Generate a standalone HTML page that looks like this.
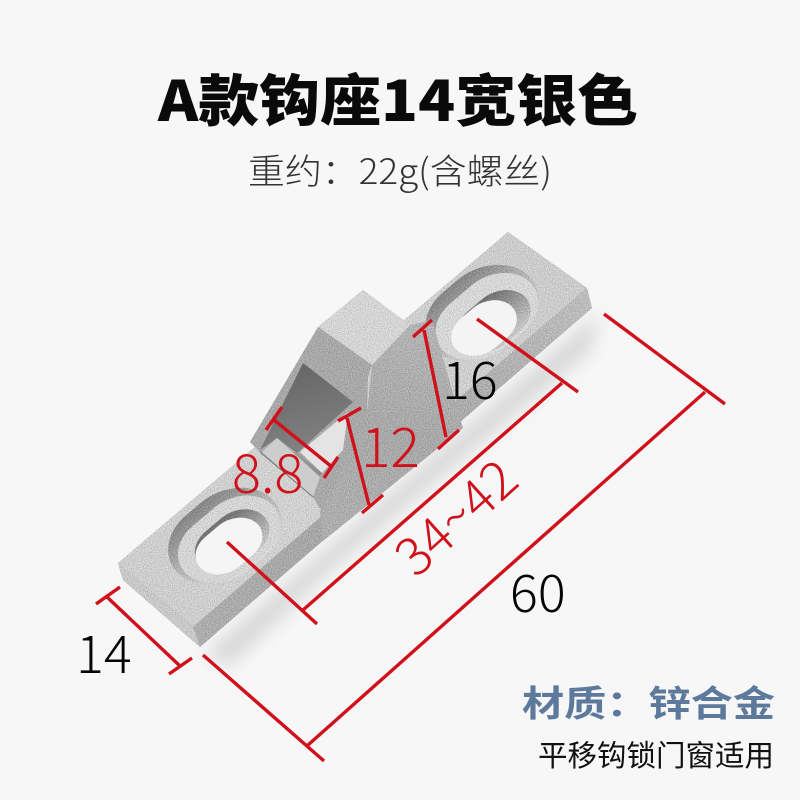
<!DOCTYPE html>
<html><head><meta charset="utf-8"><style>
html,body{margin:0;padding:0;width:800px;height:800px;overflow:hidden;background:#f7f7f7}
svg{display:block}
text{font-family:"Liberation Sans","Noto Sans CJK SC",sans-serif}
.cjk{font-family:"Noto Sans CJK SC","Liberation Sans",sans-serif}
.red{stroke:#d0111c;stroke-width:3.4;fill:none;stroke-linecap:butt}
</style></head><body>
<svg width="800" height="800" viewBox="0 0 800 800" xmlns="http://www.w3.org/2000/svg">
<defs>
<filter id="grain" x="0" y="0" width="100%" height="100%" color-interpolation-filters="sRGB">
<feTurbulence type="fractalNoise" baseFrequency="0.95" numOctaves="1" seed="4" result="n"/>
<feColorMatrix in="n" type="matrix" values="1 0 0 0 0 1 0 0 0 0 1 0 0 0 0 0 0 0 0 1" result="g"/>
<feComposite in="SourceGraphic" in2="g" operator="arithmetic" k1="0" k2="1" k3="0.4" k4="-0.2" result="m"/>
<feComposite in="m" in2="SourceAlpha" operator="in"/>
</filter>
<filter id="b6"><feGaussianBlur stdDeviation="9"/></filter>
<linearGradient id="top" gradientUnits="userSpaceOnUse" x1="120" y1="600" x2="590" y2="250">
<stop offset="0" stop-color="#cdcdcd"/><stop offset=".5" stop-color="#d2d2d2"/><stop offset="1" stop-color="#cacaca"/></linearGradient>
<linearGradient id="side" gradientUnits="userSpaceOnUse" x1="200" y1="640" x2="590" y2="300">
<stop offset="0" stop-color="#adadad"/><stop offset=".5" stop-color="#a2a2a2"/><stop offset="1" stop-color="#bcbcbc"/></linearGradient>
<linearGradient id="rf" gradientUnits="userSpaceOnUse" x1="400" y1="330" x2="350" y2="510">
<stop offset="0" stop-color="#b2b2b2"/><stop offset=".55" stop-color="#a8a8a8"/><stop offset="1" stop-color="#adadad"/></linearGradient>
<linearGradient id="ho" gradientUnits="userSpaceOnUse" x1="300" y1="370" x2="320" y2="450">
<stop offset="0" stop-color="#686868"/><stop offset="1" stop-color="#828282"/></linearGradient>
<linearGradient id="cs" x1="0" y1="0" x2="0" y2="1">
<stop offset="0" stop-color="#858585"/><stop offset=".4" stop-color="#adadad"/><stop offset="1" stop-color="#dadada"/></linearGradient>
<linearGradient id="slab" gradientUnits="userSpaceOnUse" x1="290" y1="470" x2="315" y2="450">
<stop offset="0" stop-color="#c0c0c0"/><stop offset="1" stop-color="#737373"/></linearGradient>
<linearGradient id="through" x1="0" y1="0" x2="0" y2="1">
<stop offset="0" stop-color="#6f6f6f"/><stop offset="1" stop-color="#c8c8c8"/></linearGradient>
</defs>

<rect width="800" height="800" fill="#f7f7f7"/>

<!-- soft shadow -->
<polygon points="205,655 600,312 590,350 330,570 230,665" fill="#c8c8c8" opacity=".7" filter="url(#b6)"/>

<g filter="url(#grain)">
<!-- plate -->
<polygon points="118,563 123,580 200,647 592,308 587,288 193,627" fill="url(#side)"/>
<polygon points="118,563 193,627 200,647 123,580" fill="#c8c8c8"/>
<polygon points="118,563 508,232 587,288 193,627" fill="url(#top)"/>

<!-- left countersink -->
<g transform="matrix(6.5,-5.5,5.36,4.57,225,536)">
<rect x="-7" y="-5.9" width="14" height="11.8" rx="5.9" fill="url(#cs)"/>
<rect x="-6.4" y="-4.1" width="12.9" height="9.6" rx="4.8" fill="#d4d4d4"/>
<rect x="-4.6" y="-2.3" width="9.4" height="7" rx="3.5" fill="url(#through)"/>
</g>
<!-- right countersink -->
<g transform="matrix(6.5,-5.5,5.36,4.57,482,313)">
<rect x="-7" y="-5.9" width="14" height="11.8" rx="5.9" fill="url(#cs)"/>
<rect x="-6.4" y="-4" width="12.9" height="9.6" rx="4.8" fill="#d6d6d6"/>
<rect x="-4.4" y="-1.5" width="9.2" height="7" rx="3.5" fill="url(#through)"/>
</g>

<!-- block right sloped face -->
<polygon points="372,365 410,325 432,320 463,428 323,541 320,512 367,413" fill="url(#rf)"/>
<!-- block top -->
<polygon points="318,327 363,290 410,325 372,365" fill="#d4d4d4"/>
<!-- block front frame -->
<polygon points="318,327 372,365 368,377 367,413 322,512 313,497 260,452 250,442" fill="#a8a8a8"/>
</g>

<!-- through-holes -->
<g transform="matrix(6.5,-5.5,5.36,4.57,229,546)"><rect x="-4.2" y="-3.2" width="8.4" height="6.4" rx="3.2" fill="#f5f5f5"/></g>
<g transform="matrix(6.5,-5.5,5.36,4.57,484,328)"><rect x="-4.1" y="-3.2" width="8.2" height="6.4" rx="3.2" fill="#f4f4f4"/></g>

<!-- opening -->
<polygon points="303,363 353,402 297,453 277,438 260,450" fill="url(#ho)"/>
<polygon points="348,412 300,452 322,473 343,450" fill="#e4e4e4"/>
<polygon points="297,453 322,473 315,484 285,450" fill="url(#slab)"/>
<polygon points="262,452 277,438 287,447 320,477 313,497" fill="#cdcdcd"/>
<line x1="260" y1="452" x2="313" y2="497" stroke="#777" stroke-width="1"/>

<!-- dimension lines -->
<g class="red">
<path d="M203,655L324,761M604,314L725,404M308,745L705,392"/>
<path d="M227,542L317,624M477,319L578,392M303,610L562,383"/>
<path d="M96,604L120,587M169,674L192,658M107,597L180,666"/>
<path d="M413,337L432,320M424,330L446,437M438,449L459,430"/>
<path d="M338,421L361,408M347,418L369,505M362,513L383,495"/>
<path d="M266,430L282,407M274,420L332,467M324,478L338,457"/>
</g>

<!-- labels -->
<text class="cjk" x="158" y="121" font-size="56" font-weight="900" fill="#0a0a0a" textLength="480" lengthAdjust="spacingAndGlyphs">A款钩座14宽银色</text>
<text class="cjk" x="248" y="184" font-size="35" font-weight="300" fill="#333" textLength="304" lengthAdjust="spacingAndGlyphs">重约：22g(含螺丝)</text>

<text class="cjk" x="76" y="673" font-size="52" font-weight="300" fill="#050505">14</text>
<text class="cjk" x="442" y="399" font-size="52" font-weight="300" fill="#050505">16</text>
<text class="cjk" x="510" y="612" font-size="52" font-weight="300" fill="#050505">60</text>
<text class="cjk" x="361" y="467" font-size="55" font-weight="300" fill="#d0111c">12</text>
<text class="cjk" x="232" y="493" font-size="54" font-weight="300" fill="#d0111c">8.8</text>
<text class="cjk" transform="translate(416,579) rotate(-42)" font-size="53" font-weight="300" fill="#d0111c">34~42</text>

<text class="cjk" x="522" y="716" font-size="36" font-weight="700" fill="#5d7a9c" textLength="253" lengthAdjust="spacingAndGlyphs">材质：锌合金</text>
<text class="cjk" x="538" y="766" font-size="29.5" font-weight="400" fill="#111" textLength="236" lengthAdjust="spacingAndGlyphs">平移钩锁门窗适用</text>
</svg>
</body></html>
